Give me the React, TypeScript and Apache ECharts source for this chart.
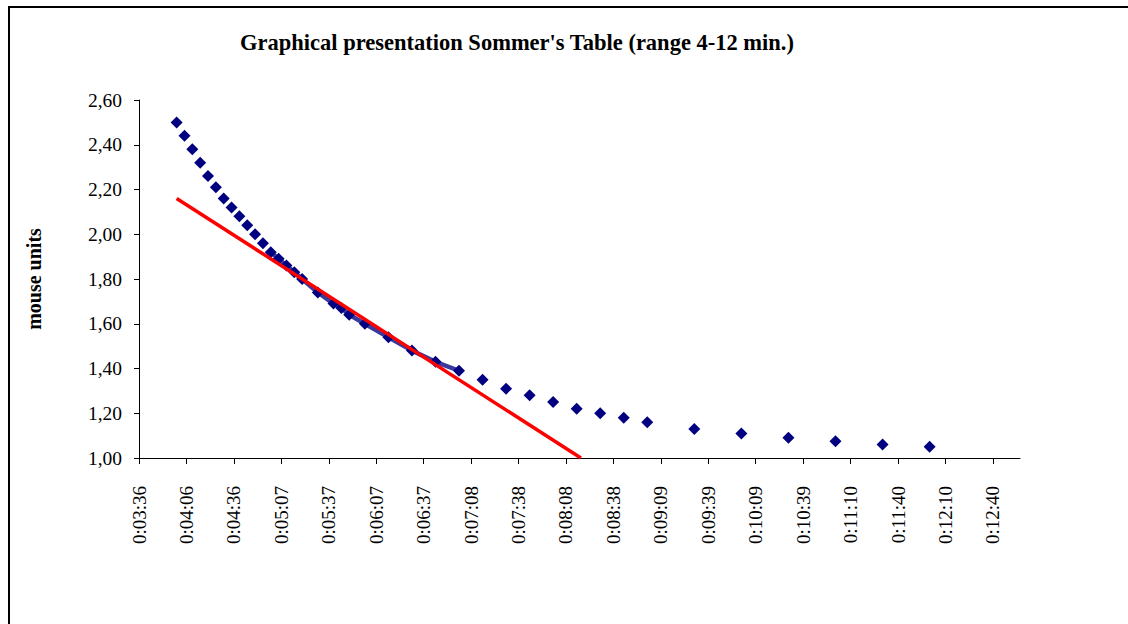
import React, { useEffect, useRef } from "react";
import * as echarts from "echarts";

// Sommer's table: death time (seconds) vs mouse units
const deathTimes = [
  240, 245, 250, 255, 260, 265, 270, 275, 280, 285, 290, 295, 300, 305, 310, 315, 320,
  330, 340, 345, 350, 360, 375, 390, 405, 420, 435, 450, 465, 480, 495, 510, 525, 540,
  570, 600, 630, 660, 690, 720,
];
const mouseUnits = [
  2.5, 2.44, 2.38, 2.32, 2.26, 2.21, 2.16, 2.12, 2.08, 2.04, 2.0, 1.96, 1.92, 1.89, 1.86, 1.83, 1.8,
  1.74, 1.69, 1.67, 1.64, 1.6, 1.54, 1.48, 1.43, 1.39, 1.35, 1.31, 1.28, 1.25, 1.22, 1.2, 1.18, 1.16,
  1.13, 1.11, 1.09, 1.075, 1.06, 1.05,
];
// fitted range (5-7 min)
const fitRange = [300, 420];
// linear trend line endpoints
const trendTimes = [240, 497.7];
const trendValues = [2.16, 1.0];

const xTickLabels = [
  "0:03:36", "0:04:06", "0:04:36", "0:05:07", "0:05:37", "0:06:07", "0:06:37", "0:07:08",
  "0:07:38", "0:08:08", "0:08:38", "0:09:09", "0:09:39", "0:10:09", "0:10:39", "0:11:10",
  "0:11:40", "0:12:10", "0:12:40",
];
const X_MIN = 216;
const X_INTERVAL = 30.24;
const X_MAX = 777.6;

const FONT = "'Liberation Serif', 'Times New Roman', serif";

export default function App() {
  const ref = useRef<HTMLDivElement>(null);

  useEffect(() => {
    if (!ref.current) return;
    const chart = echarts.init(ref.current, null, { renderer: "svg" });
    const tickValues = xTickLabels.map((_, i) => +(X_MIN + i * X_INTERVAL).toFixed(4));
    const allPoints = deathTimes.map((t, i) => [t, mouseUnits[i]]);
    const fitPoints = allPoints.filter((p) => p[0] >= fitRange[0] && p[0] <= fitRange[1]);
    const trendPoints = trendTimes.map((t, i) => [t, trendValues[i]]);

    chart.setOption({
      animation: false,
      backgroundColor: "#fff",
      grid: { left: 139, top: 100, right: 108, bottom: 166, containLabel: false },
      xAxis: {
        type: "value",
        min: X_MIN,
        max: X_MAX,
        splitLine: { show: false },
        axisLine: { show: true, lineStyle: { color: "#000", width: 1 } },
        axisTick: {
          show: true,
          length: 6,
          customValues: tickValues,
          lineStyle: { color: "#000" },
        },
        axisLabel: {
          customValues: tickValues,
          rotate: 90,
          margin: 28,
          color: "#000",
          fontFamily: FONT,
          fontSize: 19,
          formatter: (v: number) => {
            const idx = tickValues.findIndex((tv) => Math.abs(tv - v) < 0.01);
            return idx >= 0 ? xTickLabels[idx] : "";
          },
        },
      },
      yAxis: {
        type: "value",
        min: 1,
        max: 2.6,
        interval: 0.2,
        name: "mouse units",
        nameLocation: "middle",
        nameGap: 95,
        nameRotate: 90,
        nameTextStyle: { fontFamily: FONT, fontSize: 20, fontWeight: "bold", color: "#000" },
        splitLine: { show: false },
        axisLine: { show: true, lineStyle: { color: "#000", width: 1 } },
        axisTick: { show: true, length: 5, lineStyle: { color: "#000" } },
        axisLabel: {
          margin: 17,
          color: "#000",
          fontFamily: FONT,
          fontSize: 19.5,
          formatter: (v: number) => v.toFixed(2).replace(".", ","),
        },
      },
      graphic: [
        {
          type: "text",
          x: 517,
          y: 42,
          style: {
            text: "Graphical presentation Sommer's Table (range 4-12 min.)",
            textAlign: "center",
            textVerticalAlign: "middle",
            font: `bold 22.5px ${FONT}`,
            fill: "#000",
          },
        },
        {
          type: "line",
          shape: { x1: 8, y1: 7, x2: 1128, y2: 7 },
          style: { stroke: "#000", lineWidth: 2 },
        },
        {
          type: "line",
          shape: { x1: 9, y1: 7, x2: 9, y2: 624 },
          style: { stroke: "#000", lineWidth: 2 },
        },
      ],
      series: [
        {
          type: "line",
          data: fitPoints,
          showSymbol: false,
          symbol: "none",
          lineStyle: { color: "#3a3a9e", width: 4.5 },
          z: 1,
        },
        {
          type: "scatter",
          data: allPoints,
          symbol: "diamond",
          symbolSize: 12,
          itemStyle: { color: "#000080", opacity: 1 },
          z: 2,
        },
        {
          type: "line",
          data: trendPoints,
          symbol: "none",
          lineStyle: { color: "#ff0000", width: 3.5 },
          z: 3,
        },
      ],
    });
    return () => chart.dispose();
  }, []);

  return (
    <div
      ref={ref}
      style={{ position: "absolute", left: 0, top: 0, width: 1128, height: 624, background: "#fff" }}
    />
  );
}
